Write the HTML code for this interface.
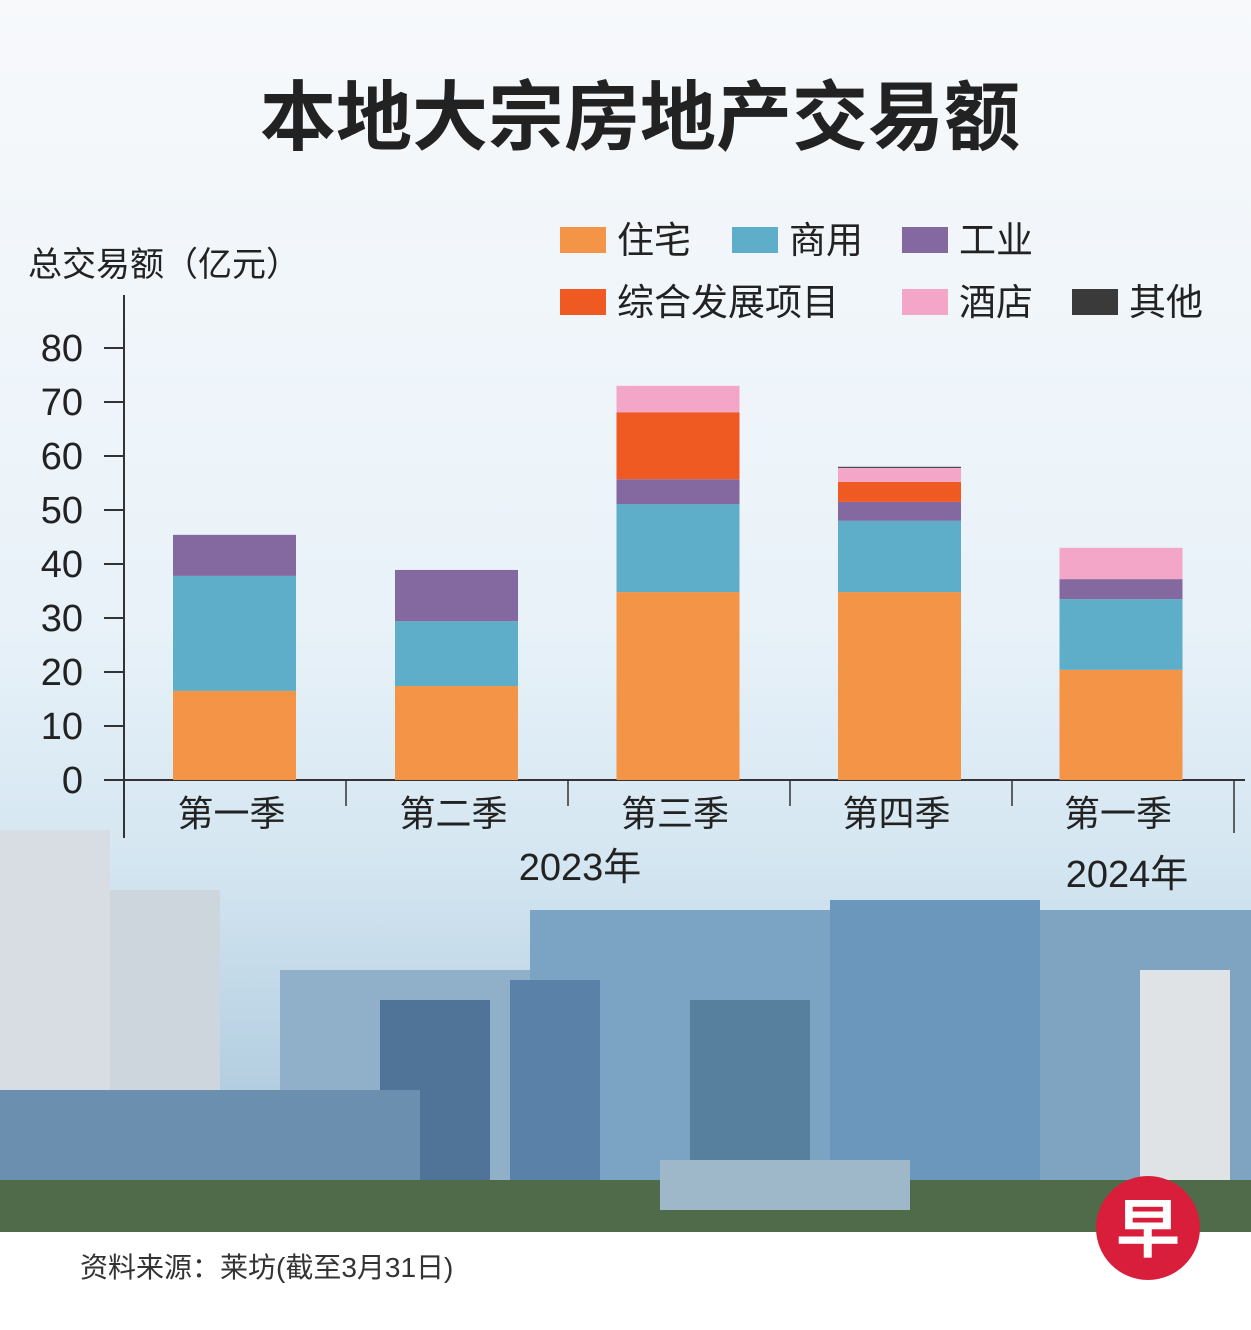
<!DOCTYPE html>
<html><head><meta charset="utf-8">
<style>
body{margin:0;width:1251px;height:1330px;overflow:hidden;font-family:"Liberation Sans","Noto Sans CJK SC",sans-serif;}
svg{display:block}
text{font-family:"Liberation Sans","Noto Sans CJK SC",sans-serif;}
</style></head><body>
<svg id="c" width="1251" height="1330" viewBox="0 0 1251 1330" xmlns="http://www.w3.org/2000/svg">
<defs>
<linearGradient id="sky" x1="0" y1="0" x2="0" y2="1">
<stop offset="0" stop-color="#f7f9fb"/><stop offset="0.5" stop-color="#e9f2f9"/><stop offset="0.7" stop-color="#d4e6f1"/><stop offset="1" stop-color="#9fbfd6"/>
</linearGradient>
</defs>
<rect x="0" y="0" width="1251" height="1232" fill="url(#sky)"/>
<g id="city">
<rect x="0" y="830" width="110" height="400" fill="#d8dde3"/>
<rect x="110" y="890" width="110" height="340" fill="#cdd5dd"/>
<rect x="280" y="970" width="250" height="260" fill="#8fb0c8"/>
<rect x="530" y="910" width="300" height="320" fill="#7aa3c4"/>
<rect x="830" y="900" width="210" height="330" fill="#6b97bd"/>
<rect x="1040" y="910" width="211" height="320" fill="#7ea4c2"/>
<rect x="380" y="1000" width="110" height="230" fill="#4f7497"/>
<rect x="510" y="980" width="90" height="250" fill="#5a82a8"/>
<rect x="690" y="1000" width="120" height="230" fill="#57809f"/>
<rect x="1140" y="970" width="90" height="260" fill="#dfe3e6"/>
<rect x="0" y="1090" width="420" height="110" fill="#6b8fae"/>
<rect x="0" y="1180" width="1251" height="52" fill="#4f6b4a"/>
<rect x="660" y="1160" width="250" height="50" fill="#9eb8c9"/>
</g>
<rect x="0" y="1232" width="1251" height="98" fill="#ffffff"/>
<text x="640" y="144" text-anchor="middle" font-size="76" font-weight="bold" fill="#222">本地大宗房地产交易额</text>
<text x="28" y="276" font-size="34" fill="#222">总交易额（亿元）</text>
<g id="legend"></g>
<g id="axes"></g>
<g id="bars"></g>
<text x="80" y="1277" font-size="28" fill="#333">资料来源：莱坊(截至3月31日)</text>
<circle cx="1148" cy="1228" r="52" fill="#d81e3a"/>
<text x="1148" y="1252" text-anchor="middle" font-size="64" font-weight="bold" fill="#fff">早</text>
</svg>
<script>
const categories=["第一季","第二季","第三季","第四季","第一季"];
const seriesNames=["住宅","商用","工业","综合发展项目","酒店","其他"];
const residential=[16.5,17.4,34.8,34.8,20.4];
const commercial=[21.3,12.0,16.3,13.2,13.1];
const industrial=[7.6,9.5,4.6,3.5,3.7];
const mixed=[0,0,12.4,3.7,0];
const hotel=[0,0,4.9,2.6,5.8];
const other=[0,0,0,0.2,0];
const yTicks=[0,10,20,30,40,50,60,70,80];
const colors=["#f39447","#5eaec9","#8468a0","#ef5a22","#f4a6c8","#3a3a3a"];
const NS="http://www.w3.org/2000/svg";
const y0=780,yMax=348,x0=124,xEnd=1245,band=222,barW=123;
function ys(v){return y0-(v/80)*(y0-yMax);}
function xs(i){return 173+i*band+ (i>=2? -0.5*(i-1):0);}
function mk(tag,attrs,parent){const e=document.createElementNS(NS,tag);for(const k in attrs)e.setAttribute(k,attrs[k]);parent.appendChild(e);return e;}
const axes=document.getElementById('axes');
const bars=document.getElementById('bars');
const legend=document.getElementById('legend');
let ax=mk('line',{x1:x0,y1:295,x2:x0,y2:838,stroke:'#333','stroke-width':2},axes);


let bx=mk('line',{x1:x0,y1:y0,x2:xEnd,y2:y0,stroke:'#333','stroke-width':2},axes);


yTicks.forEach(t=>{
 const l=mk('line',{x1:104,y1:ys(t),x2:x0,y2:ys(t),stroke:'#333','stroke-width':2},axes);
 
 
 const tx=mk('text',{x:83,y:ys(t)+13,'text-anchor':'end','font-size':38,fill:'#222'},axes);
 tx.textContent=t;
 
 
});
categories.forEach((c,i)=>{
 const sx=x0+(i+1)*band;
 const s=mk('line',{x1:sx,y1:y0,x2:sx,y2:(i==4?833:806),stroke:'#333','stroke-width':1.5},axes);
 
 
 const t=mk('text',{x:xs(i)+barW/2-3,y:826,'text-anchor':'middle','font-size':36,fill:'#222'},axes);
 t.textContent=c;
 
 
});
const y1=mk('text',{x:580,y:880,'text-anchor':'middle','font-size':38,fill:'#222'},axes);
y1.textContent='2023年';


const y2=mk('text',{x:1127,y:887,'text-anchor':'middle','font-size':38,fill:'#222'},axes);
y2.textContent='2024年';


const series=[residential,commercial,industrial,mixed,hotel,other];
categories.forEach((c,i)=>{
 let base=0;
 series.forEach((s,k)=>{
  const v=s[i]; if(!v) return;
  const r=mk('rect',{x:xs(i),y:ys(base+v),width:barW,height:ys(base)-ys(base+v),fill:colors[k]},bars);
  
  
  base+=v;
 });
});
const lpos=[[560,240],[732,240],[902,240],[560,302],[902,302],[1072,302]];
seriesNames.forEach((n,k)=>{
 const r=mk('rect',{x:lpos[k][0],y:lpos[k][1]-13,width:46,height:26,fill:colors[k]},legend);
 
 
 const t=mk('text',{x:lpos[k][0]+57,y:lpos[k][1]+13,'font-size':37,fill:'#222'},legend);
 t.textContent=n;
 
 
});
</script>
</body></html>
